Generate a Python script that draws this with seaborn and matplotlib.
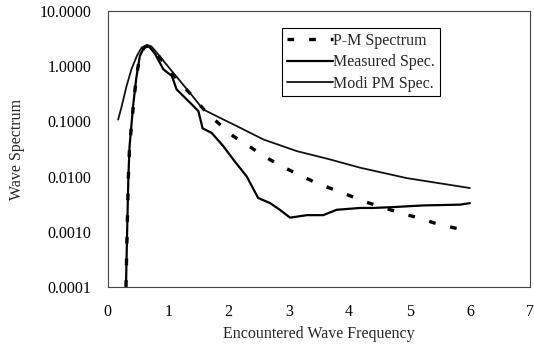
import matplotlib
matplotlib.use("Agg")
import matplotlib.pyplot as plt
import matplotlib.ticker as mticker
import seaborn as sns
import pandas as pd

# values
pm_freq = [0.30, 0.32, 0.34, 0.36, 0.42, 0.47, 0.53, 0.60, 0.66, 0.75, 0.85, 1.0, 1.2,
           1.4, 1.6, 1.80, 2.08, 2.35, 2.60, 2.88, 3.16, 3.43, 3.71, 4.01, 4.26, 4.54,
           4.84, 5.15, 5.42, 5.73, 6.0]
pm_spec = [1e-4, 0.0011, 0.010, 0.036, 0.18, 0.62, 1.54, 2.2, 2.35, 2.1, 1.5, 0.9, 0.5,
           0.29, 0.16, 0.10, 0.054, 0.035, 0.023, 0.0154, 0.0109, 0.0079, 0.0060, 0.0045,
           0.0035, 0.0028, 0.0022, 0.00178, 0.00143, 0.00118, 0.00103]

meas_freq = [0.30, 0.32, 0.34, 0.36, 0.42, 0.47, 0.53, 0.60, 0.68, 0.78, 0.92, 1.06, 1.14,
             1.36, 1.50, 1.57, 1.72, 1.91, 2.10, 2.30, 2.49, 2.69, 2.85, 3.02, 3.30,
             3.57, 3.79, 4.18, 4.40, 4.73, 5.23, 5.84, 6.0]
meas_spec = [1e-4, 0.0011, 0.010, 0.036, 0.2, 0.6, 1.54, 2.2, 2.3, 1.7, 0.88, 0.67, 0.38,
             0.22, 0.154, 0.075, 0.062, 0.036, 0.019, 0.0101, 0.0041, 0.0033, 0.0025,
             0.0018, 0.0020, 0.0020, 0.0025, 0.0027, 0.0027, 0.0028, 0.0030, 0.0031, 0.0033]

modi_freq = [0.17, 0.23, 0.31, 0.39, 0.48, 0.56, 0.65, 0.72, 0.81, 1.08, 1.36, 1.58, 1.91,
             2.19, 2.58, 3.13, 3.68, 4.18, 4.95, 6.0]
modi_spec = [0.108, 0.19, 0.44, 0.88, 1.54, 2.19, 2.44, 2.3, 1.77, 0.77, 0.33, 0.165, 0.109,
             0.077, 0.047, 0.029, 0.0205, 0.0145, 0.0094, 0.0062]

labels = ["P-M Spectrum", "Measured Spec.", "Modi PM Spec."]

pm = pd.DataFrame({"freq": pm_freq, "spec": pm_spec})
meas = pd.DataFrame({"freq": meas_freq, "spec": meas_spec})
modi = pd.DataFrame({"freq": modi_freq, "spec": modi_spec})

sns.set_style("white")
plt.rcParams["font.family"] = ["Liberation Serif", "DejaVu Serif"]

fig, ax = plt.subplots(figsize=(5.34, 3.49), dpi=100)
fig.subplots_adjust(left=0.202, right=0.993, top=0.968, bottom=0.178)

sns.lineplot(data=pm, x="freq", y="spec", ax=ax, color="black", lw=2.4,
             label=labels[0], sort=False)
ax.lines[-1].set_dashes([2.0, 4.5])
sns.lineplot(data=meas, x="freq", y="spec", ax=ax, color="black", lw=1.6,
             label=labels[1], sort=False)
sns.lineplot(data=modi, x="freq", y="spec", ax=ax, color="#111111", lw=1.3,
             label=labels[2], sort=False)

ax.set_yscale("log")
ax.set_xlim(0, 7)
ax.set_ylim(1e-4, 10)
ax.set_xticks(range(0, 8))
ax.set_yticks([1e-4, 1e-3, 1e-2, 1e-1, 1, 10])
ax.yaxis.set_major_formatter(mticker.FormatStrFormatter("%.4f"))
ax.yaxis.set_minor_locator(mticker.NullLocator())
ax.tick_params(direction="in", length=3, width=0.6, labelsize=11.5, colors="black")
ax.tick_params(axis="y", pad=12)
ax.tick_params(axis="x", pad=12)
ax.set_xlabel("Encountered Wave Frequency", fontsize=11.5, labelpad=5)
ax.set_ylabel("Wave Spectrum", fontsize=11.5, labelpad=10)
for s in ax.spines.values():
    s.set_color("#444444")
    s.set_linewidth(0.8)

leg = ax.legend(loc="upper left", bbox_to_anchor=(0.412, 0.94), fontsize=11.5,
                handlelength=2.9, handletextpad=0.0, borderpad=0.3,
                labelspacing=0.35, fancybox=False, framealpha=1, borderaxespad=0)
leg.get_frame().set_edgecolor("black")
leg.get_frame().set_linewidth(0.8)

fig.savefig("out.png", dpi=100)
